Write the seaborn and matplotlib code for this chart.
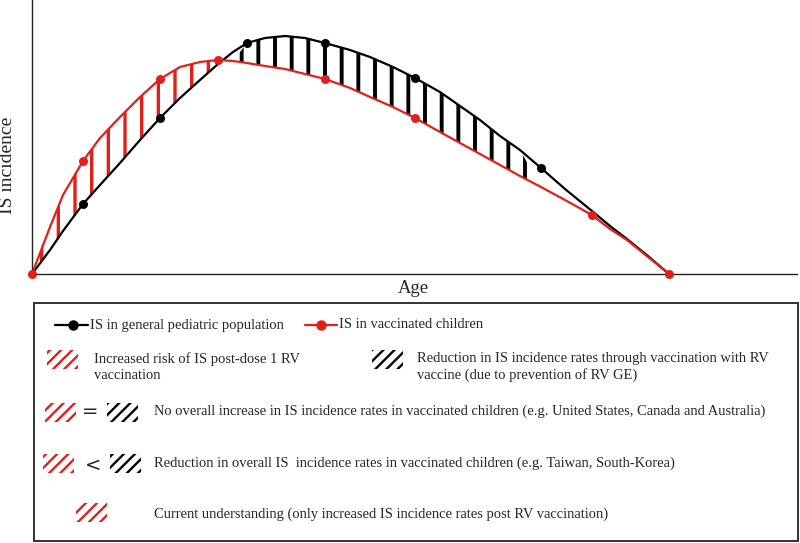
import numpy as np
import pandas as pd
import matplotlib
matplotlib.use('Agg')
import matplotlib.pyplot as plt
import seaborn as sns
from matplotlib.patches import Rectangle

# values read off the schematic (arbitrary units, no real scale on the axes)
age = [0, 18, 31, 51, 68, 88, 108, 128, 148, 168, 186, 201, 215, 233, 253, 273,
       293, 318, 338, 361, 383, 408, 428, 448, 468, 488, 509, 533, 560, 578,
       595, 616, 637]
is_general = [0, 24, 43, 70, 89, 111, 134, 156, 176, 194, 210, 222, 231, 236,
              238, 236, 231, 224, 217, 207, 196, 182, 168, 154, 138, 124, 106,
              85, 63, 48, 35, 18, 0]
is_vaccinated = [0, 47, 79, 113, 136, 157, 177, 195, 207, 212, 214, 213, 211,
                 208, 205, 200, 195, 186, 177, 167, 156, 142, 131, 120, 109, 98,
                 87, 74, 59, 45, 34, 17, 0]
general_markers = [3, 7, 12, 16, 20, 26]
vaccinated_markers = [0, 3, 7, 10, 16, 20, 28, 32]
increase_end = 186            # red hatched area: vaccinated above general
reduction_span = (215, 488)   # black hatched area: general above vaccinated

RED = '#e0201b'
BLACK = '#000000'

sns.set_style('white')
plt.rcParams['font.family'] = ['Liberation Serif', 'DejaVu Serif']
plt.rcParams['hatch.linewidth'] = 2.6

df = pd.DataFrame({'age': age, 'general': is_general, 'vaccinated': is_vaccinated})
x = df['age'].to_numpy()
g = df['general'].to_numpy()
v = df['vaccinated'].to_numpy()


def hatch_lw(artist, lw):
    if hasattr(artist, 'set_hatch_linewidth'):
        artist.set_hatch_linewidth(lw)


fig = plt.figure(figsize=(8, 5.43), dpi=100)
ax = fig.add_axes([0.04, 0.4954, 0.95625, 0.5046])

# hatched areas between the curves
with plt.rc_context({'hatch.color': RED, 'hatch.linewidth': 2.4}):
    red_area = ax.fill_between(x, g, v, where=(v >= g) & (x <= increase_end),
                               interpolate=True, facecolor='none', edgecolor=RED,
                               linewidth=0, hatch='|')
hatch_lw(red_area, 2.4)
with plt.rc_context({'hatch.color': BLACK, 'hatch.linewidth': 2.8}):
    black_area = ax.fill_between(x, v, g, where=(g >= v) & (x >= reduction_span[0]) & (x <= reduction_span[1]),
                                 interpolate=True, facecolor='none', edgecolor=BLACK,
                                 linewidth=0, hatch='|')
hatch_lw(black_area, 2.8)

# curves
sns.lineplot(data=df, x='age', y='general', color=BLACK, lw=1.6, ax=ax, sort=False)
sns.lineplot(data=df, x='age', y='vaccinated', color=RED, lw=1.6, ax=ax, sort=False)
sns.scatterplot(data=df.iloc[general_markers], x='age', y='general', color=BLACK,
                s=42, linewidth=0, ax=ax, zorder=4, clip_on=False)
sns.scatterplot(data=df.iloc[vaccinated_markers], x='age', y='vaccinated', color=RED,
                s=42, linewidth=0, ax=ax, zorder=5, clip_on=False)

ax.set_xlim(0, 765)
ax.set_ylim(0, 274)
ax.set_xticks([])
ax.set_yticks([])
sns.despine(ax=ax)
for s in ['left', 'bottom']:
    ax.spines[s].set_color('#222222')
    ax.spines[s].set_linewidth(1.0)
ax.set_xlabel('Age', fontsize=13.5)
ax.xaxis.set_label_coords(0.499, -0.022)
ax.set_ylabel('IS incidence', fontsize=14)
ax.yaxis.set_label_coords(-0.021, 0.398)

# legend panel, laid out in pixel units
lax = fig.add_axes([0, 0, 1, 1])
lax.set_xlim(0, 800)
lax.set_ylim(543, 0)
lax.axis('off')
lax.add_patch(Rectangle((34, 303), 764, 238, fill=False, lw=1.4, ec='#333333'))

FS = 10.45


def swatch(x0, y0, color):
    with plt.rc_context({'hatch.color': color, 'hatch.linewidth': 1.7}):
        p = Rectangle((x0, y0), 31, 19, facecolor='none', edgecolor=color, lw=0, hatch='///')
    hatch_lw(p, 1.7)
    lax.add_patch(p)


lax.plot([55, 88], [325, 325], color=BLACK, lw=1.6)
lax.plot([73], [325], 'o', color=BLACK, ms=6.5)
lax.text(90, 325, 'IS in general pediatric population', fontsize=FS, va='center')
lax.plot([305, 337], [325, 325], color=RED, lw=1.6)
lax.plot([321], [325], 'o', color=RED, ms=6.5)
lax.text(339, 325, 'IS in vaccinated children', fontsize=FS, va='center')

swatch(47, 350, RED)
lax.text(94, 367, 'Increased risk of IS post-dose 1 RV\nvaccination', fontsize=FS,
         va='center', linespacing=1.3)
swatch(372, 350, BLACK)
lax.text(417, 367, 'Reduction in IS incidence rates through vaccination with RV\n'
         'vaccine (due to prevention of RV GE)', fontsize=FS, va='center', linespacing=1.3)

swatch(45, 403, RED)
lax.text(90, 412, '=', fontsize=14, ha='center', va='center', family='DejaVu Sans')
swatch(107, 403, BLACK)
lax.text(154, 411, 'No overall increase in IS incidence rates in vaccinated children '
         '(e.g. United States, Canada and Australia)', fontsize=FS, va='center')

swatch(43, 454, RED)
lax.text(93, 465, '<', fontsize=14, ha='center', va='center', family='DejaVu Sans')
swatch(110, 454, BLACK)
lax.text(154, 463, 'Reduction in overall IS  incidence rates in vaccinated children '
         '(e.g. Taiwan, South-Korea)', fontsize=FS, va='center')

swatch(76, 503, RED)
lax.text(154, 514, 'Current understanding (only increased IS incidence rates post RV '
         'vaccination)', fontsize=FS, va='center')

fig.savefig('out.png', dpi=100)
